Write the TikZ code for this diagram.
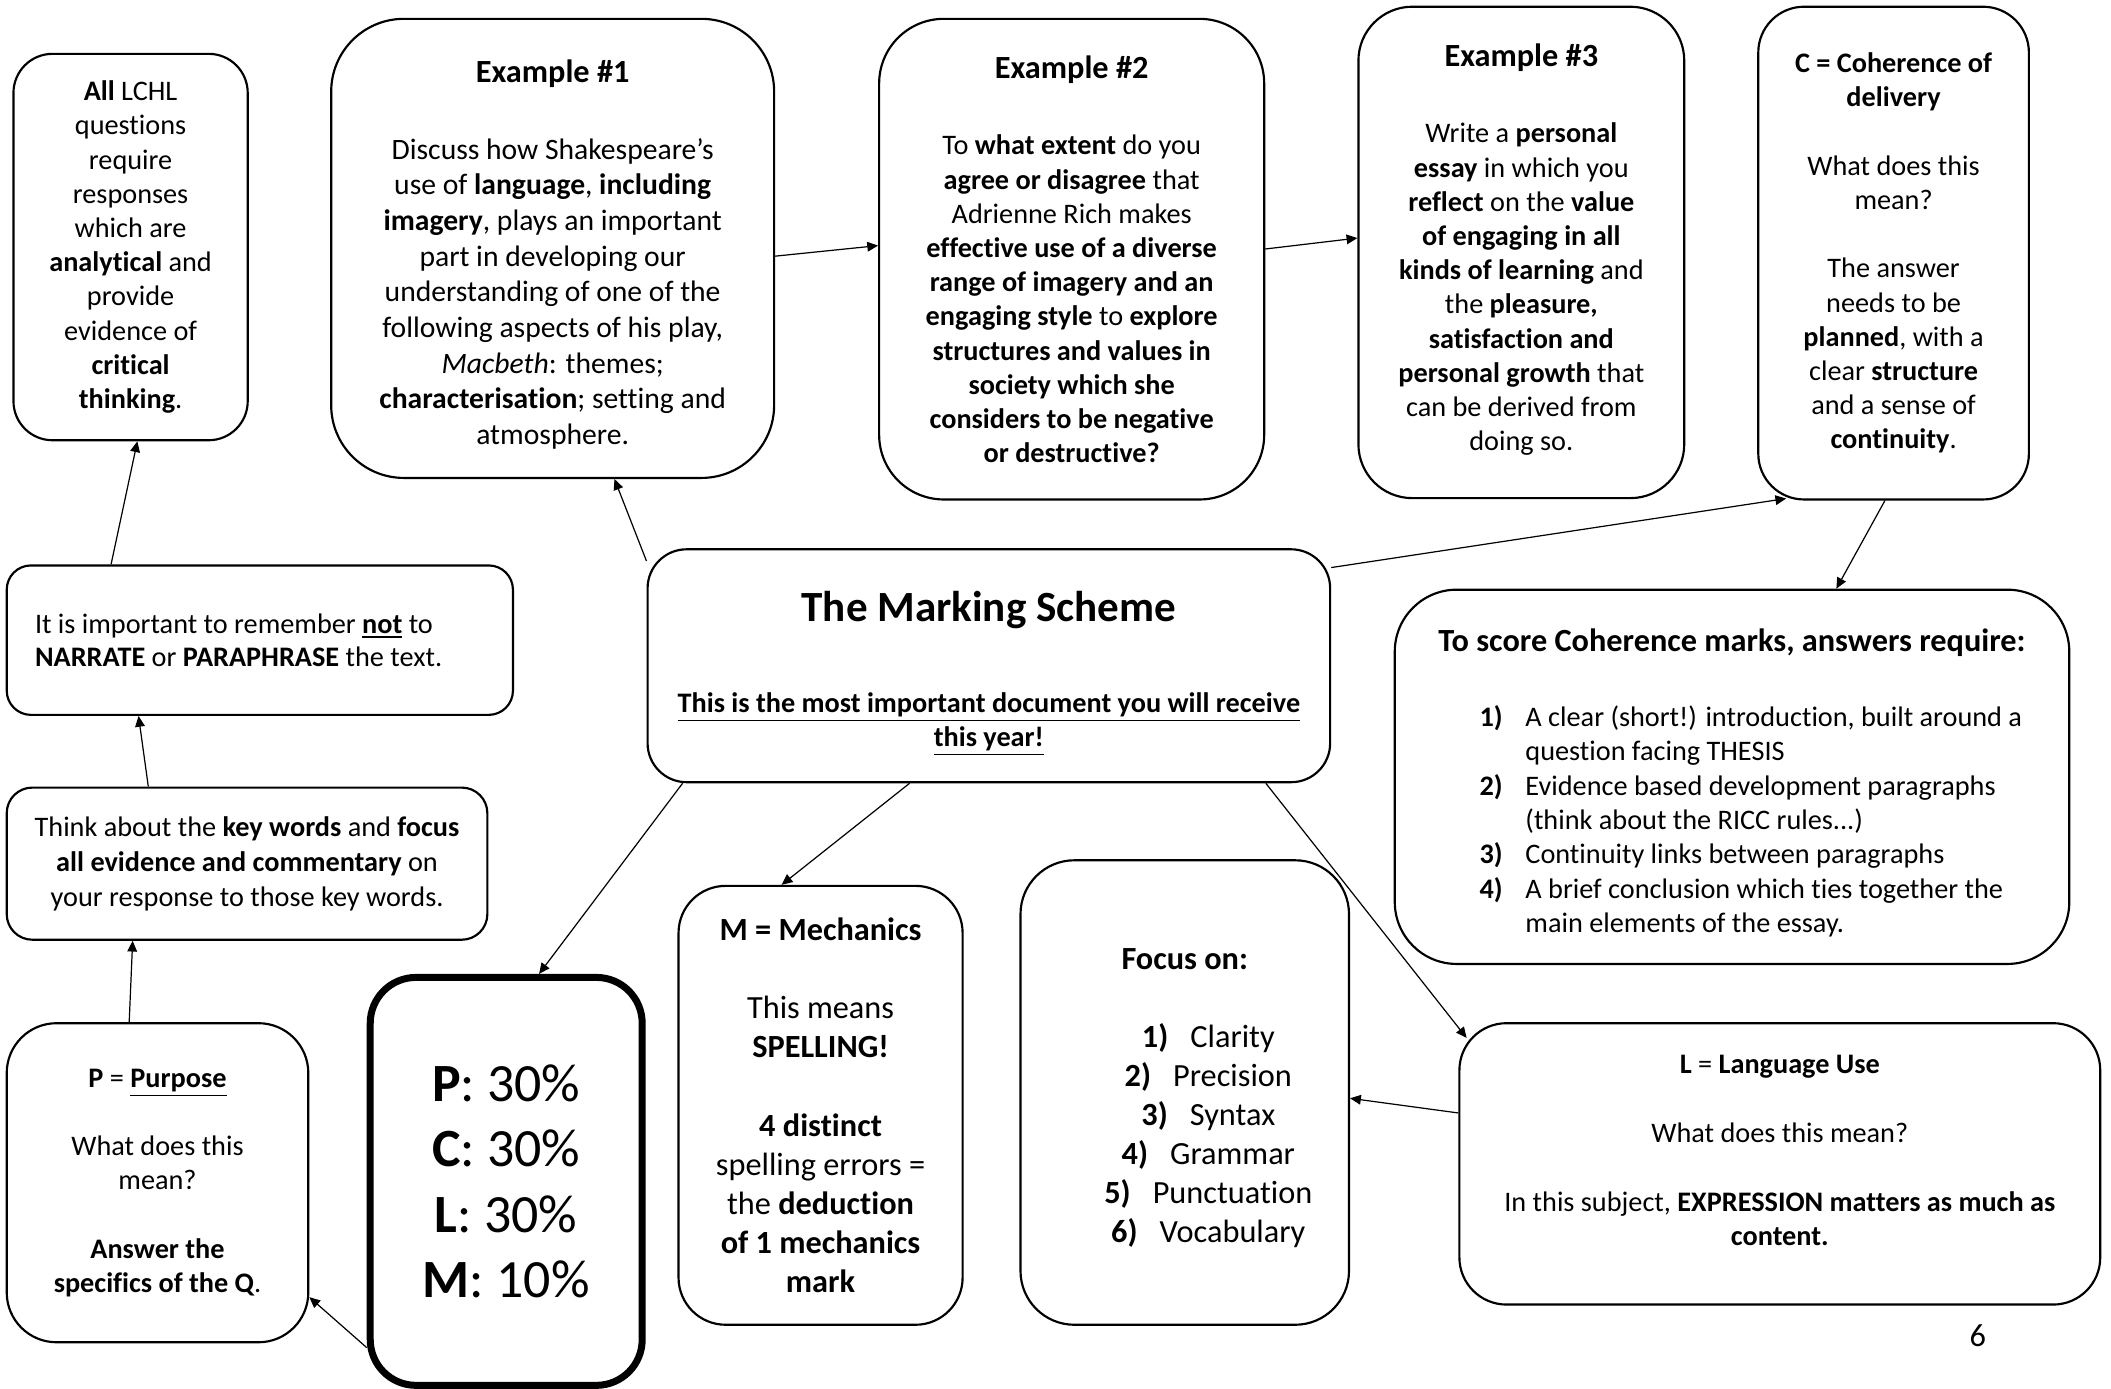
\documentclass[tikz,border=0pt]{standalone}
\usepackage{fontspec}
\setmainfont{Carlito}[Ligatures={TeX,NoCommon}]
\usepackage{tikz}
\usetikzlibrary{arrows.meta}
\tikzstyle{box} = [draw, line width=0.8pt, align=center, inner sep=0pt, font=\fontsize{10.5}{12.7}\selectfont]
\tikzstyle{bigbox} = [draw, line width=2.6pt, align=center, inner sep=0pt, font=\fontsize{20}{24.3}\selectfont]
\tikzstyle{arrow} = [-{Triangle[length=4pt, width=3.6pt]}, line width=0.45pt]
\newcommand{\focusitem}[2]{\hspace*{17.5pt}\makebox[18pt][l]{\textbf{#1)}}#2}
\newcommand{\cohitem}[1]{\textbf{#1)}}

\begin{document}
\begin{tikzpicture}[x=0.5pt, y=-0.5pt]
	\useasboundingbox (0,0) rectangle (1568,1031);
	\node[box, minimum width=87pt, minimum height=143.5pt, rounded corners=14.5pt](lchl) at (97, 183.5){\textbf{All} LCHL\\questions\\require\\responses\\which are\\\textbf{analytical} and\\provide\\evidence of\\\textbf{critical}\\\textbf{thinking}.};
	\node[box, font=\fontsize{11}{13.25}\selectfont, minimum width=164.5pt, minimum height=170.5pt, rounded corners=27pt](ex1) at (410.5, 184.5){
		\raisebox{0pt}[13pt]{\fontsize{12}{14}\selectfont\textbf{Example \#1}}\\[15.25pt]
		Discuss how Shakespeare's\\use of \textbf{language}, \textbf{including}\\\textbf{imagery}, plays an important\\part in developing our\\understanding of one of the\\following aspects of his play,\\\textit{Macbeth}: themes;\\\textbf{characterisation}; setting and\\atmosphere.};
	\node[box, minimum width=143pt, minimum height=178.5pt, rounded corners=24pt](ex2) at (796, 192.5){
		{\fontsize{12}{14}\selectfont\textbf{Example \#2}}\\[15.8pt]
		To \textbf{what extent} do you\\\textbf{agree or disagree} that\\Adrienne Rich makes\\\textbf{effective use of a diverse}\\\textbf{range of imagery and an}\\\textbf{engaging style} to \textbf{explore}\\\textbf{structures and values in}\\\textbf{society which she}\\\textbf{considers to be negative}\\\textbf{or destructive?}};
	\node[box, minimum width=121pt, minimum height=182.5pt, rounded corners=20pt](ex3) at (1130, 187.5){
		{\fontsize{12}{14}\selectfont\textbf{Example \#3}}\\[15.8pt]
		Write a \textbf{personal}\\\textbf{essay} in which you\\\textbf{reflect} on the \textbf{value}\\\textbf{of engaging in all}\\\textbf{kinds of learning} and\\the \textbf{pleasure,}\\\textbf{satisfaction and}\\\textbf{personal growth} that\\can be derived from\\\raisebox{0pt}[\height][4pt]{doing so.}};
	\node[box, minimum width=100.5pt, minimum height=183pt, rounded corners=17pt](coh) at (1406.5, 188){
		\textbf{C = Coherence of}\\\textbf{delivery}\\[\baselineskip]
		What does this\\mean?\\[\baselineskip]
		The answer\\needs to be\\\textbf{planned}, with a\\clear \textbf{structure}\\and a sense of\\\textbf{continuity}.};
	\node[box, font=\fontsize{10.5}{12.5}\selectfont, align=flush left, text width=167pt, minimum width=188pt, minimum height=55.5pt, rounded corners=9pt](nar) at (193, 475.5){It is important to remember \underline{\textbf{not}} to\\\textbf{NARRATE} or \textbf{PARAPHRASE} the text.};
	\node[box, font=\fontsize{10.5}{13}\selectfont, minimum width=178.5pt, minimum height=56.5pt, rounded corners=9.5pt](key) at (183.5, 641.5){Think about the \textbf{key words} and \textbf{focus}\\\textbf{all evidence and commentary} on\\your response to those key words.};
	\node[box, minimum width=112pt, minimum height=118.5pt, rounded corners=18.5pt](purp) at (117, 878.5){
		\textbf{P} = \underline{\textbf{Purpose}}\\[\baselineskip]
		What does this\\mean?\\[\baselineskip]
		\textbf{Answer the}\\\textbf{specifics of the Q}.};
	\node[bigbox, minimum width=101pt, minimum height=151.5pt, rounded corners=17pt](pclm) at (376, 877.5){\textbf{P}: 30\%\\\textbf{C}: 30\%\\\textbf{L}: 30\%\\\textbf{M}: 10\%};
	\node[box, font=\fontsize{10.5}{12.5}\selectfont, minimum width=253.5pt, minimum height=86.5pt, rounded corners=14.5pt](ms) at (734.5, 494.5){
		\raisebox{0pt}[17pt]{\fontsize{16}{19}\selectfont\textbf{The Marking Scheme}}\\[21.5pt]
		\textbf{\underline{This is the most important document you will receive}}\\\textbf{\underline{this year!}}};
	\node[box, font=\fontsize{12}{14.5}\selectfont, minimum width=105.5pt, minimum height=163pt, rounded corners=17.5pt](mech) at (609.5, 821){
		\textbf{M = Mechanics}\\[\baselineskip]
		This means\\\textbf{SPELLING!}\\[\baselineskip]
		\textbf{4 distinct}\\spelling errors =\\the \textbf{deduction}\\\textbf{of 1 mechanics}\\\textbf{mark}};
	\node[box, font=\fontsize{12}{14.5}\selectfont, minimum width=122pt, minimum height=172.5pt, rounded corners=20pt](focus) at (880, 811.5){
		\raisebox{0pt}[12pt]{\textbf{Focus on:}}\\[\baselineskip]
		\focusitem{1}{Clarity}\\\focusitem{2}{Precision}\\\focusitem{3}{Syntax}\\\focusitem{4}{Grammar}\\\focusitem{5}{Punctuation}\\\focusitem{6}{Vocabulary}};
	\node[box, font=\fontsize{10.5}{12.75}\selectfont, minimum width=250.5pt, minimum height=139pt, rounded corners=23pt](score) at (1286.5, 577){
		\raisebox{0pt}[15pt]{\fontsize{12}{14}\selectfont\textbf{To score Coherence marks, answers require:}}\\[15.25pt]
		\hspace*{14pt}\begin{tabular}[t]{@{}p{17pt}@{}l@{}}
			\cohitem{1} & A clear (short!) introduction, built around a\\
			& question facing THESIS\\
			\cohitem{2} & Evidence based development paragraphs\\
			& (think about the RICC rules...)\\
			\cohitem{3} & Continuity links between paragraphs\\
			\cohitem{4} & A brief conclusion which ties together the\\
			& main elements of the essay.
		\end{tabular}};
	\node[box, font=\fontsize{10.5}{12.75}\selectfont, minimum width=238pt, minimum height=104.5pt, rounded corners=17.5pt](lang) at (1322, 864.5){
		\textbf{L} = \textbf{Language Use}\\[\baselineskip]
		What does this mean?\\[\baselineskip]
		In this subject, \textbf{EXPRESSION matters as much as}\\\raisebox{0pt}[\height][10pt]{\textbf{content.}}};
	\node[font=\fontsize{12}{14}\selectfont](pagenum) at (1469, 992){6};
	\draw[arrow](nar.153.4) -- (lchl.272.4);
	\draw[arrow](key.142.5) -- (nar.212.1);
	\draw[arrow](purp.100.4) -- (key.214.5);
	\draw[arrow](pclm.230.5) -- (purp.323.5);
	\draw[arrow](ms.163) -- (ex1.285.5);
	\draw[arrow](ex1.358.4) -- (ex2.176.2);
	\draw[arrow](ex2.3.8) -- (ex3.175.1);
	\draw[arrow, shorten >=-5pt](ms.16.2) -- (coh.244.9);
	\draw[arrow](coh.268) -- (score.61);
	\draw[arrow](ms.201.4) -- (pclm.81.5);
	\draw[arrow](ms.236.4) -- (mech.100.9);
	\draw[arrow, shorten >=-5pt](ms.337.2) -- (lang.157.8);
	\draw[arrow](lang.171.3) -- (focus.358.8);
\end{tikzpicture}
\end{document}
